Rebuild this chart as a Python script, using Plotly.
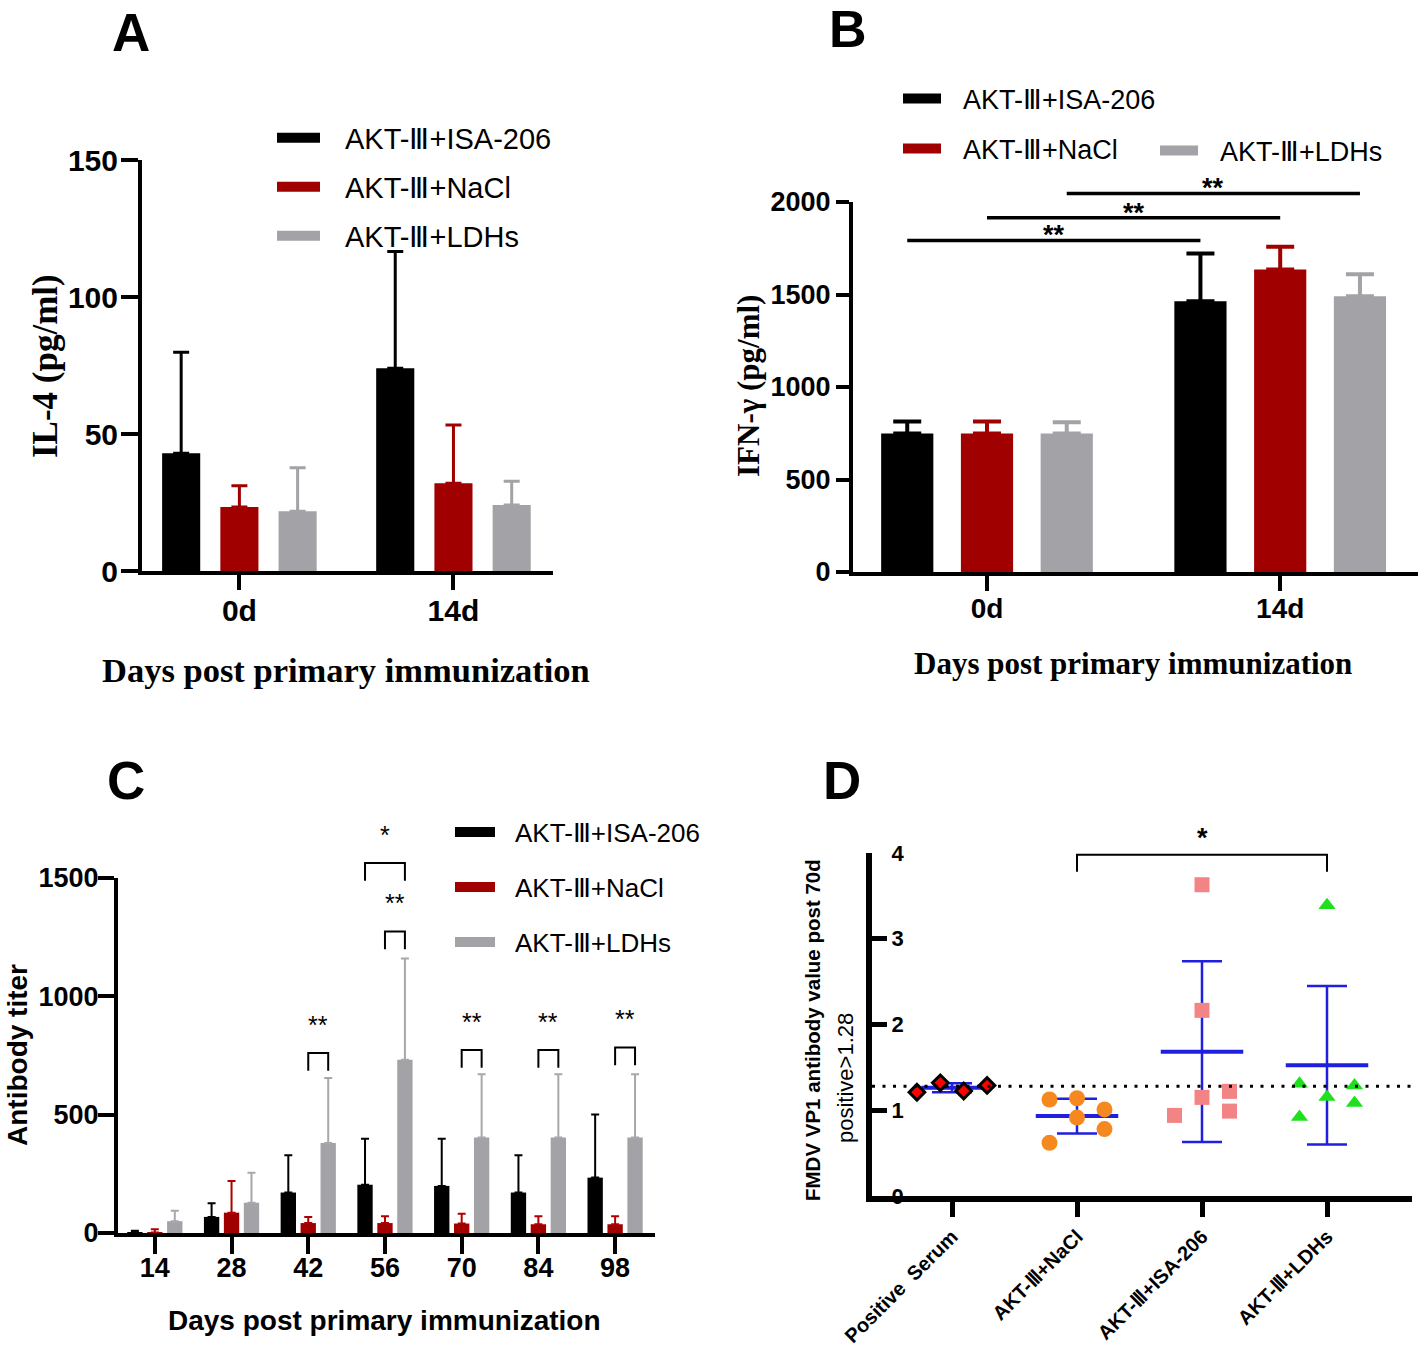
import numpy as np
import plotly.graph_objects as go

W, H = 1418, 1349
SANS = "Liberation Sans, Arial, sans-serif"
SERIF = "Liberation Serif, Times New Roman, serif"

# ---------------- data ----------------
SERIES = ["AKT-Ⅲ+ISA-206", "AKT-Ⅲ+NaCl", "AKT-Ⅲ+LDHs"]

# Panel A : IL-4 (pg/ml)
A_DAYS = ["0d", "14d"]
A_ISA = [43.0, 74.0]
A_ISA_SD = [36.8, 42.6]
A_NACL = [23.4, 32.0]
A_NACL_SD = [7.7, 21.3]
A_LDHS = [21.8, 24.1]
A_LDHS_SD = [15.9, 8.7]
A_TICKS = [0, 50, 100, 150]

# Panel B : IFN-gamma (pg/ml)
B_DAYS = ["0d", "14d"]
B_ISA = [749, 1464]
B_ISA_SD = [65, 258]
B_NACL = [749, 1635]
B_NACL_SD = [65, 123]
B_LDHS = [749, 1490]
B_LDHS_SD = [60, 119]
B_TICKS = [0, 500, 1000, 1500, 2000]
B_SIG_HEIGHTS = [1792, 1915, 2046]
B_SIG_LABELS = ["**", "**", "**"]

# Panel C : antibody titer
C_DAYS = ["14", "28", "42", "56", "70", "84", "98"]
C_ISA = [4, 68, 171, 204, 199, 171, 234]
C_ISA_SD = [6, 58, 157, 194, 199, 157, 267]
C_NACL = [2, 86, 42, 42, 40, 37, 37]
C_NACL_SD = [14, 134, 26, 29, 41, 34, 34]
C_LDHS = [50, 128, 380, 732, 404, 404, 404]
C_LDHS_SD = [44, 127, 275, 428, 267, 267, 267]
C_TICKS = [0, 500, 1000, 1500]
# (day index, from series, to series, bracket height, label)
C_SIG = [(2, 1, 2, 761, "**"), (3, 0, 2, 1563, "*"), (3, 1, 2, 1274, "**"),
         (4, 1, 2, 773, "**"), (5, 1, 2, 773, "**"), (6, 1, 2, 784, "**")]

# Panel D : FMDV VP1 antibody value
D_GROUPS = ["Positive  Serum", "AKT-Ⅲ+NaCl", "AKT-Ⅲ+ISA-206", "AKT-Ⅲ+LDHs"]
D_POSITIVE = [1.21, 1.32, 1.225, 1.29]
D_NACL = [1.125, 1.14, 1.01, 0.915, 0.78, 0.62]
D_ISA = [0.94, 1.15, 1.22, 0.99, 2.165, 3.63]
D_LDHS = [1.31, 1.155, 1.29, 1.085, 0.92, 3.39]
D_TICKS = [0, 1, 2, 3, 4]
D_THRESHOLD = 1.28
D_SIG = (1, 3, 3.98, "*")

# ---------------- styles / layout ----------------
BAR_COLORS = ["#000000", "#A00000", "#A3A3A7"]
ERR_COLORS_C = ["#000000", "#B00000", "#A8A8AC"]
BLUE = "#1F1FE0"
D_MARKERS = [
    dict(symbol="diamond", size=12, color="#FF0000", line=dict(color="black", width=3)),
    dict(symbol="circle", size=16, color="#F5891F", line=dict(width=0)),
    dict(symbol="square", size=15, color="#F28486", line=dict(width=0)),
    dict(symbol="triangle-up", size=15, color="#1FE01F", line=dict(width=0)),
]
D_SLOT_POS = [[-1.5, -0.5, 0.5, 1.5], [-1, 0, 1, 0, 1, -1], [-1, 0, 1, 1, 0, 0], [-1, 0, 1, 1, -1, 0]]
D_SLOT_STEP = [0.187, 0.22, 0.22, 0.22]
D_MEAN_HALF = [0.245, 0.33, 0.33, 0.33]

AB_SLOT, AB_WIDTH = 0.272, 0.178
C_SLOT, C_WIDTH = 0.26, 0.2
C_LEG = 75
D_LEG = 0.2


def dom_x(l, r):
    return [l / W, r / W]


def dom_y(top, bottom):
    return [1 - bottom / H, 1 - top / H]


def ext_range(rng, dom, ext_dom):
    scale = (rng[1] - rng[0]) / (dom[1] - dom[0])
    return [rng[0] - (dom[0] - ext_dom[0]) * scale, rng[1] + (ext_dom[1] - dom[1]) * scale]


A_XDOM, A_YDOM, A_XRANGE, A_YRANGE = dom_x(142, 553), dom_y(160, 571), [-0.455, 1.465], [0, 150]
B_XDOM, B_YDOM, B_XRANGE, B_YRANGE = dom_x(853, 1418), dom_y(202, 572), [-0.457, 1.47], [0, 2000]
B_EXT = dom_y(140, 572)
C_XDOM, C_YDOM, C_XRANGE, C_YRANGE = dom_x(118, 655), dom_y(878, 1233), [-0.48, 6.52], [0, 1500]
C_EXT = dom_y(790, 1233)
D_XDOM, D_YDOM, D_XRANGE, D_YRANGE = dom_x(872, 1412), dom_y(853, 1196), [-0.64, 3.68], [0, 4]
D_EXT = dom_y(800, 1196)

# legend placement: (legend id, swatch left px, row centre px, font size, swatch len, itemwidth)
LEGENDS = [
    ("legend", 277, 138, 29, 43, 63), ("legend2", 277, 187, 29, 43, 63), ("legend3", 277, 236, 29, 43, 63),
    ("legend4", 903, 99, 27, 38, 55), ("legend5", 903, 149, 27, 38, 55), ("legend6", 1160, 151, 27, 38, 55),
    ("legend7", 455, 832, 26, 40, 55), ("legend8", 455, 887, 26, 40, 55), ("legend9", 455, 942, 26, 40, 55),
]

fig = go.Figure()


def add_bar_panel(means, sds, xa, ya, slot, width, thick, capw, err_colors, prefix):
    for k in range(3):
        n = len(means[k])
        fig.add_trace(go.Bar(
            x=list(range(n)), y=means[k], width=width, offset=(k - 1) * slot - width / 2,
            marker=dict(color=BAR_COLORS[k], line=dict(width=0)),
            error_y=dict(type="data", symmetric=False, array=sds[k], arrayminus=[0] * n,
                         color=err_colors[k], thickness=thick, width=capw),
            name=SERIES[k], legendgroup=f"{prefix}{k}", showlegend=False,
            xaxis=xa, yaxis=ya, hoverinfo="skip"))


def add_legend_entry(k, legend_idx, group, xa, ya):
    lid, _, _, _, sw, _ = LEGENDS[legend_idx]
    fig.add_trace(go.Scatter(
        x=[None], y=[None], mode="lines", name=SERIES[k],
        line=dict(color=BAR_COLORS[k], width=13, dash=f"{sw}px,80px"),
        legend=lid, legendgroup=group, showlegend=True,
        xaxis=xa, yaxis=ya, hoverinfo="skip"))


add_bar_panel([A_ISA, A_NACL, A_LDHS], [A_ISA_SD, A_NACL_SD, A_LDHS_SD], "x", "y",
              AB_SLOT, AB_WIDTH, 3, 8, BAR_COLORS, "a")
add_bar_panel([B_ISA, B_NACL, B_LDHS], [B_ISA_SD, B_NACL_SD, B_LDHS_SD], "x2", "y2",
              AB_SLOT, AB_WIDTH, 4, 14, BAR_COLORS, "b")
add_bar_panel([C_ISA, C_NACL, C_LDHS], [C_ISA_SD, C_NACL_SD, C_LDHS_SD], "x3", "y3",
              C_SLOT, C_WIDTH, 2, 4, ERR_COLORS_C, "c")

for k in range(3):
    add_legend_entry(k, k, f"a{k}", "x", "y")
    add_legend_entry(k, 3 + k, f"b{k}", "x2", "y2")
    add_legend_entry(k, 6 + k, f"c{k}", "x3", "y3")

annotations = []

# Panel B significance lines
bx, by = [], []
for k, h in enumerate(B_SIG_HEIGHTS):
    x0, x1 = 0 + (k - 1) * AB_SLOT, 1 + (k - 1) * AB_SLOT
    bx += [x0, x1, None]
    by += [h, h, None]
    annotations.append(dict(text=B_SIG_LABELS[k], x=(x0 + x1) / 2, y=h, xref="x2", yref="y5",
                            showarrow=False, yanchor="bottom", yshift=-12,
                            font=dict(family=SANS, size=27, color="black", weight="bold")))
fig.add_trace(go.Scatter(x=bx, y=by, mode="lines", line=dict(color="black", width=3.5),
                         xaxis="x2", yaxis="y5", showlegend=False, hoverinfo="skip"))

# Panel C brackets
cx, cy = [], []
for g, s0, s1, h, lab in C_SIG:
    x0, x1 = g + (s0 - 1) * C_SLOT, g + (s1 - 1) * C_SLOT
    cx += [x0, x0, x1, x1, None]
    cy += [h - C_LEG, h, h, h - C_LEG, None]
    annotations.append(dict(text=lab, x=(x0 + x1) / 2, y=h, xref="x3", yref="y6",
                            showarrow=False, yanchor="bottom", yshift=12,
                            font=dict(family=SANS, size=25, color="black")))
fig.add_trace(go.Scatter(x=cx, y=cy, mode="lines", line=dict(color="black", width=2),
                         xaxis="x3", yaxis="y6", showlegend=False, hoverinfo="skip"))

# Panel D : mean +/- SD then points
D_VALUES = [D_POSITIVE, D_NACL, D_ISA, D_LDHS]
for i, vals in enumerate(D_VALUES):
    m = float(np.mean(vals))
    sd = float(np.std(vals, ddof=1))
    fig.add_trace(go.Scatter(
        x=[i], y=[m], mode="markers", marker=dict(size=2, opacity=0),
        error_y=dict(type="data", array=[sd], color=BLUE, thickness=2.5, width=20),
        error_x=dict(type="data", array=[D_MEAN_HALF[i]], color=BLUE, thickness=4, width=0),
        xaxis="x4", yaxis="y4", showlegend=False, hoverinfo="skip"))
for i, vals in enumerate(D_VALUES):
    xs = [i + s * D_SLOT_STEP[i] for s in D_SLOT_POS[i]]
    fig.add_trace(go.Scatter(x=xs, y=vals, mode="markers", marker=D_MARKERS[i],
                             xaxis="x4", yaxis="y4", showlegend=False, hoverinfo="skip",
                             cliponaxis=False))

g0, g1, h, lab = D_SIG
fig.add_trace(go.Scatter(x=[g0, g0, g1, g1], y=[h - D_LEG, h, h, h - D_LEG], mode="lines",
                         line=dict(color="black", width=2), xaxis="x4", yaxis="y7",
                         showlegend=False, hoverinfo="skip"))
annotations.append(dict(text=lab, x=(g0 + g1) / 2, y=h, xref="x4", yref="y7", showarrow=False,
                        yanchor="bottom", yshift=0,
                        font=dict(family=SANS, size=27, color="black", weight="bold")))


def label(text, xp, yp, size, family=SANS, bold=True, angle=0):
    annotations.append(dict(text=text, x=xp / W, y=1 - yp / H, xref="paper", yref="paper",
                            showarrow=False, textangle=angle, xanchor="center", yanchor="middle",
                            font=dict(family=family, size=size, color="black",
                                      weight="bold" if bold else "normal")))


label("A", 131, 32, 53)
label("B", 848, 29, 52)
label("C", 126, 780, 53)
label("D", 842, 780, 53)
label("IL-4 (pg/ml)", 45, 366, 35, SERIF, True, -90)
label("Days post primary immunization", 346, 670, 34.5, SERIF)
label("IFN-γ (pg/ml)", 748, 386, 31, SERIF, True, -90)
label("Days post primary immunization", 1133, 663, 31, SERIF)
label("Antibody titer", 17, 1055, 28, SANS, True, -90)
label("Days post primary immunization", 384, 1320, 28)
label("FMDV VP1 antibody value post 70d", 812, 1030, 20.5, SANS, True, -90)
label("positive>1.28", 845, 1078, 22, SANS, False, -90)


def axis(dom, rng, anchor, lw, ticklen, tickw, fsize, tickvals=None, ticktext=None, **kw):
    d = dict(domain=dom, range=rng, anchor=anchor, showline=True, linecolor="black",
             linewidth=lw, ticks="outside", ticklen=ticklen, tickwidth=tickw,
             tickcolor="black", showgrid=False, zeroline=False, fixedrange=True,
             automargin=False,
             tickfont=dict(family=SANS, size=fsize, color="black", weight="bold"))
    if tickvals is not None:
        d["tickmode"] = "array"
        d["tickvals"] = tickvals
    if ticktext is not None:
        d["ticktext"] = ticktext
    d.update(kw)
    return d


def hidden_axis(dom, rng, anchor):
    return dict(domain=dom, range=rng, anchor=anchor, visible=False, fixedrange=True)


def legend_cfg(x_px, y_px, size, itemwidth):
    return dict(x=(x_px - 5) / W, y=1 - y_px / H, xanchor="left", yanchor="middle",
                bgcolor="rgba(0,0,0,0)", borderwidth=0, itemwidth=itemwidth, itemclick=False,
                itemdoubleclick=False,
                font=dict(family=SANS, size=size, color="black"))


layout = dict(
    width=W, height=H, margin=dict(l=0, r=0, t=0, b=0, autoexpand=False),
    paper_bgcolor="white", plot_bgcolor="rgba(0,0,0,0)",
    hovermode=False, annotations=annotations,
    xaxis=axis(A_XDOM, A_XRANGE, "y", 4, 15, 4, 30, [0, 1], A_DAYS, ticklabelstandoff=-5),
    yaxis=axis(A_YDOM, A_YRANGE, "x", 4, 17, 4, 30, A_TICKS, ticklabelstandoff=-3),
    xaxis2=axis(B_XDOM, B_XRANGE, "y2", 4, 15, 4, 28, [0, 1], B_DAYS, ticklabelstandoff=-7),
    yaxis2=axis(B_YDOM, B_YRANGE, "x2", 4, 13, 4, 27, B_TICKS),
    xaxis3=axis(C_XDOM, C_XRANGE, "y3", 4, 17, 4, 27, list(range(len(C_DAYS))), C_DAYS,
                ticklabelstandoff=-9),
    yaxis3=axis(C_YDOM, C_YRANGE, "x3", 4, 16, 4, 27, C_TICKS, ticklabelstandoff=-6),
    xaxis4=axis(D_XDOM, D_XRANGE, "y4", 6, 15, 5, 20, list(range(len(D_GROUPS))), D_GROUPS,
                tickangle=-45),
    yaxis4=axis(D_YDOM, D_YRANGE, "x4", 6, 15, 5, 22, D_TICKS, ticks="inside",
                ticklabelposition="inside", ticklabeloverflow="allow", ticklabelstandoff=6),
    yaxis5=hidden_axis(B_EXT, ext_range(B_YRANGE, B_YDOM, B_EXT), "x2"),
    yaxis6=hidden_axis(C_EXT, ext_range(C_YRANGE, C_YDOM, C_EXT), "x3"),
    yaxis7=hidden_axis(D_EXT, ext_range(D_YRANGE, D_YDOM, D_EXT), "x4"),
    shapes=[dict(type="line", xref="x4", yref="y4", x0=D_XRANGE[0], x1=D_XRANGE[1],
                 y0=D_THRESHOLD, y1=D_THRESHOLD,
                 line=dict(color="black", width=3, dash="3px,7.5px"))],
)

for lid, lx, ly, ls, sw, iw in LEGENDS:
    layout[lid] = legend_cfg(lx, ly, ls, iw)

fig.update_layout(**layout)
fig.write_html("out.html", include_plotlyjs=True, config={"displayModeBar": False},
               post_script="document.body.style.margin='0';document.body.style.padding='0';")
